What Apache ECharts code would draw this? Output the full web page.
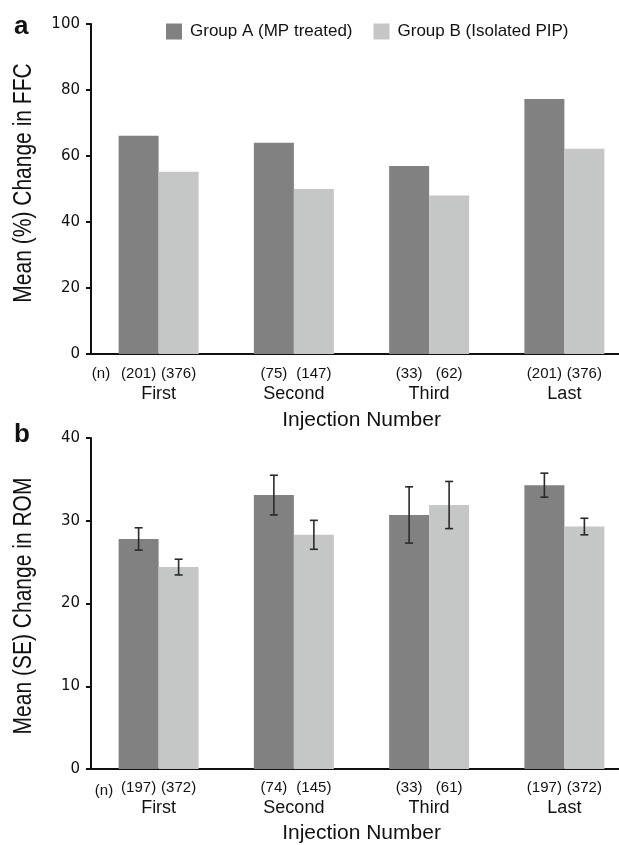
<!DOCTYPE html>
<html>
<head>
<meta charset="utf-8">
<title>FFC / ROM change by injection</title>
<script src="https://cdn.jsdelivr.net/npm/echarts@6/dist/echarts.min.js"></script>
<style>
  html, body { margin: 0; padding: 0; background: #fff; overflow: hidden; }
  /* the plot runs past the right edge in the original figure, so the canvas is wider than the window */
  #main { width: 640px; height: 845px; }
</style>
</head>
<body>
<div id="main"></div>
<script>
// categories on the x axis
var categories = ['First', 'Second', 'Third', 'Last'];
var groupNames = ['Group A (MP treated)', 'Group B (Isolated PIP)'];

// panel a - mean (%) change in FFC
var ffcA = [66.1, 64.0, 57.0, 77.3];
var ffcB = [55.2, 50.0, 48.0, 62.2];
var ffcNA = [201, 75, 33, 201];
var ffcNB = [376, 147, 62, 376];

// panel b - mean (SE) change in ROM
var romA = [27.8, 33.1, 30.7, 34.3];
var romB = [24.4, 28.3, 31.9, 29.3];
var romSeA = [1.35, 2.4, 3.4, 1.45];
var romSeB = [0.95, 1.75, 2.85, 1.0];
var romNA = [197, 74, 33, 197];
var romNB = [372, 145, 61, 372];

var darkGrey = '#818181';
var lightGrey = '#c5c6c6';
var ink = '#111';
var barW = 40;
var font = 'Liberation Sans, Arial, sans-serif';

var chart = echarts.init(document.getElementById('main'));

// x axis (same look in both panels)
function makeXAxis(g, labelMargin, nameGap) {
    return {
        type: 'category',
        gridIndex: g,
        data: categories,
        axisLine: { lineStyle: { color: ink, width: 2 } },
        axisTick: { show: false },
        axisLabel: { margin: labelMargin, fontSize: 18, color: ink, fontFamily: font },
        name: 'Injection Number',
        nameLocation: 'middle',
        nameGap: nameGap,
        nameTextStyle: { fontSize: 21, color: ink, fontFamily: font }
    };
}

function makeYAxis(g, max, interval) {
    return {
        type: 'value',
        gridIndex: g,
        min: 0,
        max: max,
        interval: interval,
        axisLine: { show: true, lineStyle: { color: ink, width: 2 } },
        axisTick: { show: true, length: 5, lineStyle: { color: ink, width: 2 } },
        axisLabel: { margin: 11, fontSize: 15, color: ink, fontFamily: 'DejaVu Sans, sans-serif' },
        splitLine: { show: false }
    };
}

// y axis title is drawn narrow (condensed) like the original figure
function yTitle(text, cy) {
    return {
        type: 'text',
        x: 24,
        y: cy,
        rotation: Math.PI / 2,
        scaleY: 1.25,
        style: { text: text, fontSize: 21, fill: ink, fontFamily: font, align: 'center', verticalAlign: 'middle' }
    };
}

// bar with the (n) count written under it
function makeBar(g, name, color, values, counts, dist) {
    return {
        type: 'bar',
        name: name,
        xAxisIndex: g,
        yAxisIndex: g,
        data: values,
        barWidth: barW,
        barGap: '0%',
        itemStyle: { color: color },
        label: {
            show: true,
            position: 'bottom',
            distance: dist,
            fontSize: 15,
            color: ink,
            fontFamily: font,
            formatter: function (p) { return '(' + counts[p.dataIndex] + ')'; }
        }
    };
}

// error bars for panel b, side -1 = group A, +1 = group B
function makeErr(name, means, errs, side) {
    return {
        type: 'custom',
        name: name,
        xAxisIndex: 1,
        yAxisIndex: 1,
        z: 5,
        data: means.map(function (m, i) { return [i, m, errs[i]]; }),
        encode: { x: 0, y: 1 },
        renderItem: function (params, api) {
            var i = api.value(0), m = api.value(1), e = api.value(2);
            var hi = api.coord([i, m + e]);
            var lo = api.coord([i, m - e]);
            var x = hi[0] + side * barW / 2;
            var cap = 4;
            var st = { stroke: '#2a2a2a', lineWidth: 1.6 };
            return {
                type: 'group',
                children: [
                    { type: 'line', shape: { x1: x, y1: hi[1], x2: x, y2: lo[1] }, style: st },
                    { type: 'line', shape: { x1: x - cap, y1: hi[1], x2: x + cap, y2: hi[1] }, style: st },
                    { type: 'line', shape: { x1: x - cap, y1: lo[1], x2: x + cap, y2: lo[1] }, style: st }
                ]
            };
        }
    };
}

var option = {
    backgroundColor: '#fff',
    animation: false,
    legend: {
        data: groupNames,
        left: 166,
        top: 23,
        padding: 0,
        icon: 'rect',
        itemWidth: 16,
        itemHeight: 16,
        itemGap: 21,
        textStyle: { fontSize: 17, color: ink, fontFamily: font, padding: [0, 0, 0, 3] }
    },
    grid: [
        { left: 91, top: 24, width: 541, height: 330 },
        { left: 91, top: 438, width: 541, height: 335 }
    ],
    xAxis: [makeXAxis(0, 31, 56), makeXAxis(1, 30, 54)],
    yAxis: [makeYAxis(0, 100, 20), makeYAxis(1, 40, 10)],
    graphic: [
        { type: 'text', left: 14, top: 14, style: { text: 'a', fontSize: 26, fontWeight: 'bold', fill: ink, fontFamily: font } },
        { type: 'text', left: 14, top: 422, style: { text: 'b', fontSize: 26, fontWeight: 'bold', fill: ink, fontFamily: font } },
        yTitle('Mean (%) Change in FFC', 183),
        yTitle('Mean (SE) Change in ROM', 606),
        { type: 'text', x: 101, y: 374, style: { text: '(n)', fontSize: 15, fill: ink, fontFamily: font, align: 'center', verticalAlign: 'middle' } },
        { type: 'text', x: 104, y: 791, style: { text: '(n)', fontSize: 15, fill: ink, fontFamily: font, align: 'center', verticalAlign: 'middle' } }
    ],
    series: [
        makeBar(0, groupNames[0], darkGrey, ffcA, ffcNA, 12),
        makeBar(0, groupNames[1], lightGrey, ffcB, ffcNB, 12),
        makeBar(1, groupNames[0], darkGrey, romA, romNA, 11),
        makeBar(1, groupNames[1], lightGrey, romB, romNB, 11),
        makeErr(groupNames[0], romA, romSeA, -1),
        makeErr(groupNames[1], romB, romSeB, 1)
    ]
};

chart.setOption(option);
</script>
</body>
</html>
